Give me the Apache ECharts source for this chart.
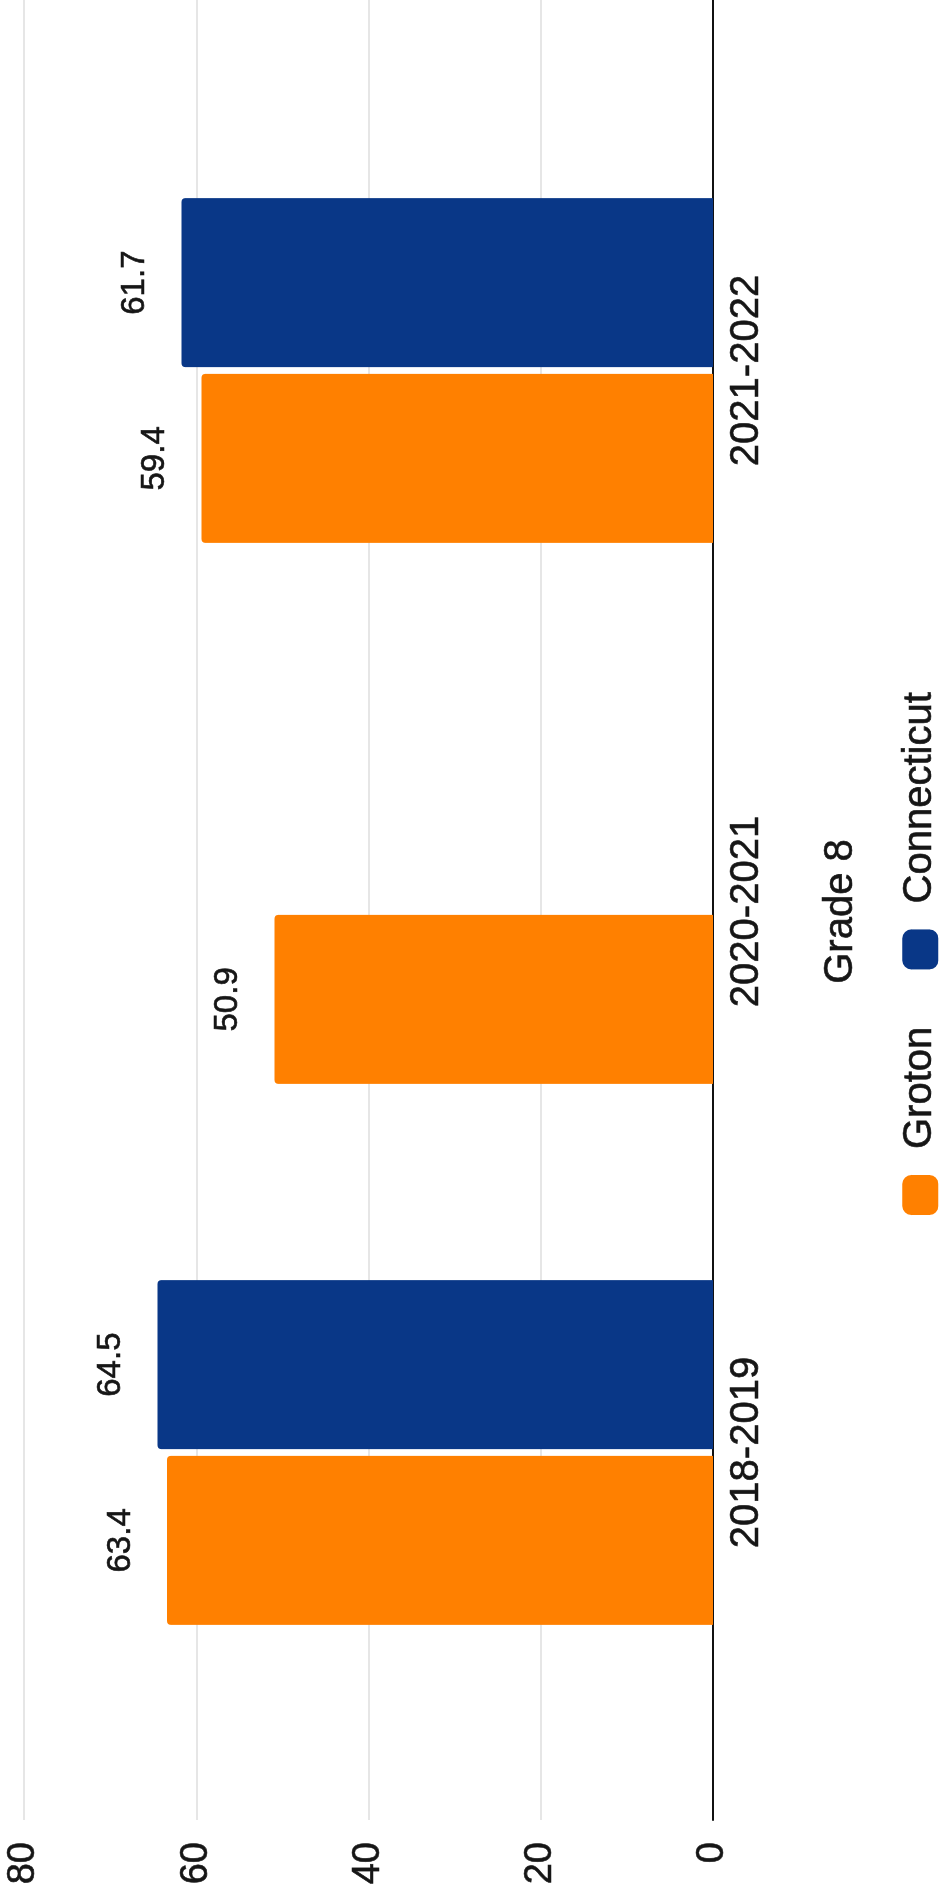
<!DOCTYPE html>
<html>
<head>
<meta charset="utf-8">
<script src="https://cdn.jsdelivr.net/npm/echarts@6/dist/echarts.min.js"></script>
<style>
  html, body { margin: 0; padding: 0; background: #ffffff; overflow: hidden; }
  body { width: 940px; height: 1891px; position: relative; }
  #rot {
    position: absolute; left: 0; top: 0;
    width: 1891px; height: 940px;
    transform-origin: 0 0;
    transform: translate(0, 1891px) rotate(-90deg);
  }
  #chart { width: 1891px; height: 940px; }
</style>
</head>
<body>
<div id="rot"><div id="chart"></div></div>
<script>
// ---- data ----
const categories = ['2018-2019', '2020-2021', '2021-2022'];
const seriesNames = ['Groton', 'Connecticut'];
const grotonValues = [63.4, 50.9, 59.4];
const connecticutValues = [64.5, null, 61.7];
const valueTicks = [0, 20, 40, 60, 80];
const axisTitle = 'Grade 8';

const colors = ['#ff8000', '#093787'];
const FONT = "'Liberation Sans', Arial, Helvetica, sans-serif";
const TEXT = '#161616';
const HEAVY = { textBorderColor: TEXT, textBorderWidth: 0.6 };

const vMin = valueTicks[0];
const vMax = valueTicks[valueTicks.length - 1];
const vInt = valueTicks[1] - valueTicks[0];

const chart = echarts.init(document.getElementById('chart'));

const labelCfg = Object.assign({
  show: true,
  position: 'top',
  distance: 30,
  color: TEXT,
  fontFamily: FONT,
  fontSize: 33,
  formatter: p => (p.value == null ? '' : p.value.toFixed(1))
}, HEAVY);

chart.setOption({
  animation: false,
  backgroundColor: '#ffffff',
  textStyle: { fontFamily: FONT },
  legend: {
    data: seriesNames,
    left: 671,
    top: 895,
    icon: 'roundRect',
    itemWidth: 40,
    itemHeight: 36,
    itemGap: 57,
    textStyle: Object.assign({ fontSize: 40, color: TEXT, fontFamily: FONT, padding: [0, 0, 0, 21] }, HEAVY)
  },
  grid: [
    { left: 71, right: 0, top: 24, bottom: 227, containLabel: false },
    { left: 168, right: 100, top: 24, bottom: 227, containLabel: false }
  ],
  xAxis: [
    {
      gridIndex: 0, type: 'category', data: [''],
      axisLine: { show: true, lineStyle: { color: '#111', width: 2 } },
      axisTick: { show: false }, axisLabel: { show: false }, splitLine: { show: false }
    },
    {
      gridIndex: 1, type: 'category', data: categories,
      axisLine: { show: false }, axisTick: { show: false },
      axisLabel: Object.assign({ color: TEXT, fontSize: 40, fontFamily: FONT, margin: 14 }, HEAVY),
      name: axisTitle, nameLocation: 'middle', nameGap: 108,
      nameTextStyle: Object.assign({ color: TEXT, fontSize: 40, fontFamily: FONT }, HEAVY)
    }
  ],
  yAxis: [
    {
      gridIndex: 0, type: 'value', min: vMin, max: vMax, interval: vInt,
      axisLine: { show: false }, axisTick: { show: false },
      axisLabel: Object.assign({ color: TEXT, fontSize: 38, fontFamily: FONT, margin: 22 }, HEAVY),
      splitLine: { show: true, lineStyle: { color: '#dedede', width: 1.5 } }
    },
    {
      gridIndex: 1, type: 'value', min: vMin, max: vMax, interval: vInt,
      show: false, splitLine: { show: false }
    }
  ],
  series: [
    {
      name: seriesNames[0], type: 'bar', xAxisIndex: 1, yAxisIndex: 1,
      data: grotonValues, barWidth: 169, barGap: '4%',
      itemStyle: { color: colors[0], borderRadius: [4, 4, 0, 0] },
      label: labelCfg
    },
    {
      name: seriesNames[1], type: 'bar', xAxisIndex: 1, yAxisIndex: 1,
      data: connecticutValues, barWidth: 169, barGap: '4%',
      itemStyle: { color: colors[1], borderRadius: [4, 4, 0, 0] },
      label: labelCfg
    }
  ]
});
</script>
</body>
</html>
